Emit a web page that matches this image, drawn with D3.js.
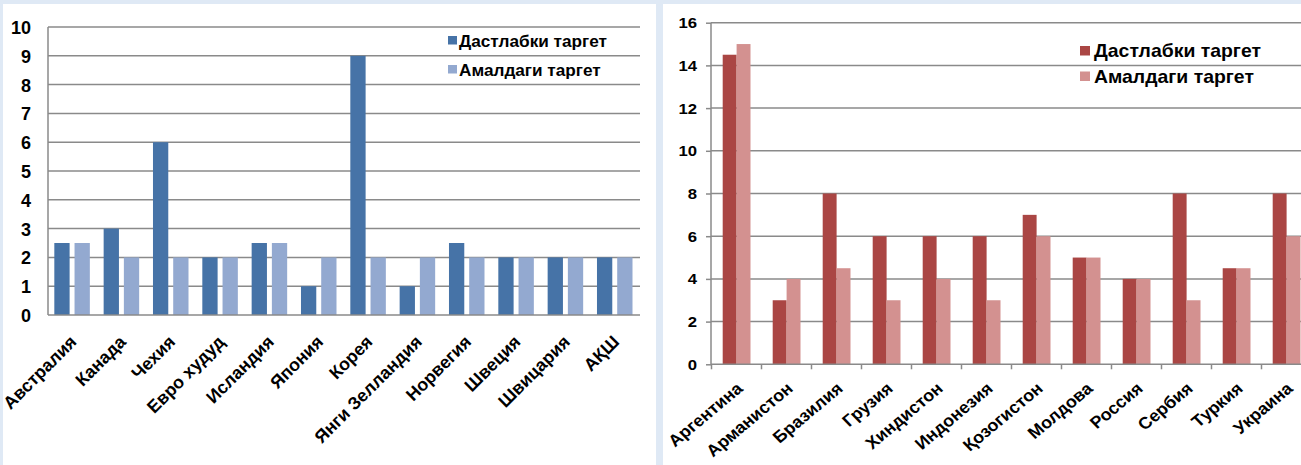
<!DOCTYPE html>
<html><head><meta charset="utf-8">
<script src="https://cdn.jsdelivr.net/npm/d3@7"></script>
<style>
html,body{margin:0;padding:0;background:#dfe9f5;}
svg{display:block;}
</style></head>
<body>
<svg id="chart" width="1301" height="465"></svg>
<script>
const leftCategories = ["Австралия","Канада","Чехия","Евро худуд","Исландия","Япония","Корея","Янги Зелландия","Норвегия","Швеция","Швицария","АҚШ"];
const leftInitial = [2.5,3,6,2,2.5,1,9,1,2.5,2,2,2];
const leftActual  = [2.5,2,2,2,2.5,2,2,2,2,2,2,2];
const leftTicks = [0,1,2,3,4,5,6,7,8,9,10];

const rightCategories = ["Аргентина","Арманистон","Бразилия","Грузия","Хиндистон","Индонезия","Қозогистон","Молдова","Россия","Сербия","Туркия","Украина"];
const rightInitial = [14.5,3,8,6,6,6,7,5,4,8,4.5,8];
const rightActual  = [15,4,4.5,3,4,3,6,5,4,3,4.5,6];
const rightTicks = [0,2,4,6,8,10,12,14,16];

const legendLabels = ["Дастлабки таргет","Амалдаги таргет"];

const SANS = "'Liberation Sans',Arial,sans-serif";
const NARROW = "'Liberation Sans Narrow','Arial Narrow','Liberation Sans',sans-serif";

const svg = d3.select("#chart");
svg.append("rect").attr("x",0).attr("y",0).attr("width",1301).attr("height",465).attr("fill","#dfe9f5");
svg.append("rect").attr("x",3).attr("y",4).attr("width",653).attr("height",461).attr("fill","#fff");
svg.append("rect").attr("x",663).attr("y",4).attr("width",638).attr("height",461).attr("fill","#fff");

const gridColor = "#8a8a8a";

function measure(txt, family){
  const t = svg.append("text").attr("font-family",family).attr("font-weight","bold").attr("font-size",10).text(txt);
  const w = t.node().getComputedTextLength();
  t.remove();
  return w;
}

// ---------- LEFT CHART ----------
(function(){
  const g = svg.append("g");
  const x = d3.scaleBand().domain(leftCategories).range([48,640]).padding(0);
  const y = d3.scaleLinear().domain([0,10]).range([315,27]);
  const bw = x.bandwidth();
  const cols = ["#4673a7","#93a9d0"];
  g.selectAll(".grid").data(leftTicks.slice(1)).join("line")
    .attr("x1",48).attr("x2",640).attr("y1",d=>y(d)).attr("y2",d=>y(d))
    .attr("stroke",gridColor).attr("stroke-width",1.5);
  [leftInitial,leftActual].forEach((vals,si)=>{
    g.selectAll(".b"+si).data(leftCategories).join("rect")
      .attr("x",(d)=>x(d)+bw*(0.128 + si*0.41))
      .attr("width",bw*0.31)
      .attr("y",(d,i)=>y(vals[i]))
      .attr("height",(d,i)=>y(0)-y(vals[i]))
      .attr("fill",cols[si]);
  });
  g.append("line").attr("x1",48).attr("x2",48).attr("y1",y(10)).attr("y2",y(0)).attr("stroke",gridColor).attr("stroke-width",1.5);
  g.append("line").attr("x1",48).attr("x2",640).attr("y1",y(0)).attr("y2",y(0)).attr("stroke",gridColor).attr("stroke-width",1.5);
  const yAxis = d3.axisLeft(y).tickValues(leftTicks).tickSize(0).tickPadding(0).tickFormat(d3.format("d"));
  const ya = g.append("g").attr("transform","translate(31,0)").call(yAxis);
  ya.select(".domain").remove();
  ya.selectAll("text").attr("font-family",NARROW)
    .attr("font-weight","bold").attr("font-size",18).attr("fill","#000").attr("dy","0.36em");
  const fs = Math.min(18, 10*95/measure(leftCategories[0], SANS));
  g.selectAll(".xl").data(leftCategories).join("text")
    .attr("transform",d=>`translate(${x(d)+bw/2+5},${343}) rotate(-45)`)
    .attr("text-anchor","end")
    .attr("font-family",SANS).attr("font-weight","bold").attr("font-size",fs)
    .attr("fill","#000").text(d=>d);
  const lfs = 10*148/measure(legendLabels[0], NARROW);
  legendLabels.forEach((t,i)=>{
    g.append("rect").attr("x",448).attr("y",36+i*29).attr("width",9).attr("height",8.5).attr("fill",cols[i]);
    g.append("text").attr("x",459).attr("y",40.5+i*29).attr("dy","0.36em")
      .attr("font-family",NARROW).attr("font-weight","bold").attr("font-size",Math.min(19,lfs)).attr("fill","#000").text(t);
  });
})();

// ---------- RIGHT CHART ----------
(function(){
  const g = svg.append("g");
  const x = d3.scaleBand().domain(rightCategories).range([711,1311]).padding(0);
  const y = d3.scaleLinear().domain([0,16]).range([364.3,22.7]);
  const bw = x.bandwidth();
  const cols = ["#aa4644","#d39190"];
  const legFs = 18;
  const s = Math.max(1, Math.min(1.25, 167/(measure(legendLabels[0], SANS)*legFs/10)));
  g.selectAll(".grid").data(rightTicks.slice(1)).join("line")
    .attr("x1",711).attr("x2",1311).attr("y1",d=>y(d)).attr("y2",d=>y(d))
    .attr("stroke",gridColor).attr("stroke-width",1.5);
  [rightInitial,rightActual].forEach((vals,si)=>{
    g.selectAll(".b"+si).data(rightCategories).join("rect")
      .attr("x",(d)=>x(d)+bw*(0.234 + si*0.278))
      .attr("width",bw*0.278)
      .attr("y",(d,i)=>y(vals[i]))
      .attr("height",(d,i)=>y(0)-y(vals[i]))
      .attr("fill",cols[si]);
  });
  const yAxis = d3.axisLeft(y).tickValues(rightTicks).tickSize(5).tickPadding(0).tickFormat("");
  const ya = g.append("g").attr("transform","translate(711,0)").call(yAxis);
  ya.select(".domain").attr("stroke",gridColor).attr("stroke-width",1.5).attr("d",`M0,${y(16)}V${y(0)}`);
  ya.selectAll(".tick line").attr("stroke",gridColor).attr("stroke-width",1.5);
  g.selectAll(".yl").data(rightTicks).join("text")
    .attr("transform",d=>`translate(697,${y(d)}) scale(${s},1)`)
    .attr("text-anchor","end").attr("dy","0.36em")
    .attr("font-family",SANS).attr("font-weight","bold").attr("font-size",15.5).attr("fill","#000")
    .text(d=>d3.format("d")(d));
  const xb = d3.scaleLinear().domain([0,12]).range([711,1311]);
  const xAxis = d3.axisBottom(xb).tickValues(d3.range(0,13)).tickSize(5).tickFormat("");
  const xa = g.append("g").attr("transform",`translate(0,${y(0)})`).call(xAxis);
  xa.select(".domain").attr("stroke",gridColor).attr("stroke-width",1.5).attr("d","M711,0H1311");
  xa.selectAll(".tick line").attr("stroke",gridColor).attr("stroke-width",1.5);
  const rot = 42;
  const fac = Math.hypot(s*Math.cos(rot*Math.PI/180), Math.sin(rot*Math.PI/180));
  const xfs = Math.min(17, 10*90/(measure(rightCategories[0], SANS)*fac));
  g.selectAll(".xl").data(rightCategories).join("text")
    .attr("transform",d=>`translate(${x(d)+bw/2+8},${390}) scale(${s},1) rotate(-${rot})`)
    .attr("text-anchor","end")
    .attr("font-family",SANS).attr("font-weight","bold").attr("font-size",xfs)
    .attr("fill","#000").text(d=>d);
  legendLabels.forEach((t,i)=>{
    g.append("rect").attr("x",1080).attr("y",46+i*25.5).attr("width",10).attr("height",9.5).attr("fill",cols[i]);
    g.append("text").attr("transform",`translate(1094,${51+i*25.5}) scale(${s},1)`).attr("dy","0.36em")
      .attr("font-family",SANS)
      .attr("font-weight","bold").attr("font-size",legFs).attr("fill","#000").text(t);
  });
})();
</script>
</body></html>
